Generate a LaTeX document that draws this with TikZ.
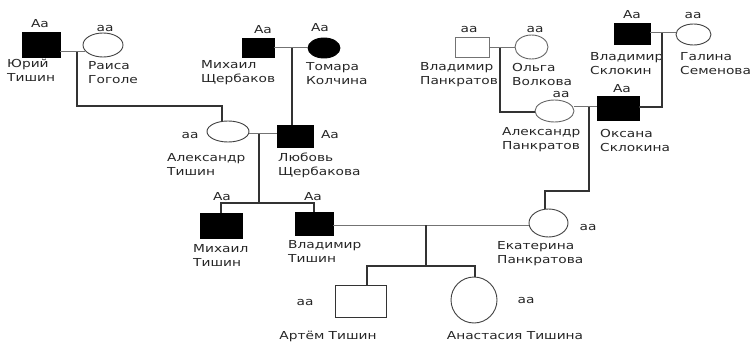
\documentclass[tikz,border=0pt]{standalone}
\usepackage{fontspec}
\setmainfont{DejaVu Sans}[FakeStretch=1.25]
\usetikzlibrary{shapes.geometric}

\begin{document}
\begin{tikzpicture}[x=1pt, y=-1pt,
		every node/.style={font=\fontsize{11}{14}\selectfont, text=black!85},
		man/.style={draw=black!80, rectangle, inner sep=0pt, line width=0.9pt},
		woman/.style={draw=black!75, ellipse, inner sep=0pt, line width=0.9pt},
		ill/.style={fill=black, draw=black},
		gt/.style={inner sep=0pt},
		who/.style={align=left, anchor=west, inner sep=0pt},
		mate/.style={draw=black!55, line width=1pt},
		kin/.style={draw=black!80, line width=1.1pt}]
				\useasboundingbox (0,0) rectangle (752,342);
				% People:
				\node[man, ill, minimum width=38pt, minimum height=25pt] (yuri) at (41,44.5){};
				\node[woman, minimum width=40pt, minimum height=24pt] (raisa) at (103,45){};
				\node[man, ill, minimum width=32pt, minimum height=19pt] (mikhailS) at (258,47.5){};
				\node[woman, ill, minimum width=32pt, minimum height=20pt] (tomara) at (324,48){};
				\node[woman, minimum width=42pt, minimum height=21pt] (alexT) at (228,131.5){};
				\node[man, ill, minimum width=36pt, minimum height=22pt] (lyubov) at (295,136){};
				\node[man, ill, minimum width=42pt, minimum height=25pt] (mikhailT) at (221,225.5){};
				\node[man, ill, minimum width=38pt, minimum height=23pt] (vladimirT) at (314,223.5){};
				\node[woman, minimum width=39pt, minimum height=28pt] (ekaterina) at (548.5,223){};
				\node[man, draw=black!55, minimum width=34pt, minimum height=20pt] (vladimirP) at (472,47){};
				\node[woman, draw=black!60, minimum width=33pt, minimum height=24pt] (olga) at (531.5,47){};
				\node[woman, draw=black!60, minimum width=39pt, minimum height=22pt] (alexP) at (554.5,111){};
				\node[man, ill, minimum width=42pt, minimum height=24pt] (oksana) at (618,108){};
				\node[man, ill, minimum width=36pt, minimum height=21pt] (vladimirS) at (632,33.5){};
				\node[woman, minimum width=35pt, minimum height=21pt] (galina) at (693.5,34.5){};
				\node[man, minimum width=51pt, minimum height=32pt] (artem) at (360.5,301){};
				\node[woman, minimum width=46pt, minimum height=46pt] (anastasia) at (474,300){};
				% Genotypes:
				\node[gt] (gYuri) at (40,24){Aa};
				\node[gt] (gRaisa) at (105,28){aa};
				\node[gt] (gMikhailS) at (263,30){Aa};
				\node[gt] (gTomara) at (320,28){Aa};
				\node[gt] (gAlexT) at (190,135){aa};
				\node[gt] (gLyubov) at (330,135){Aa};
				\node[gt] (gMikhailT) at (222,197){Aa};
				\node[gt] (gVladimirT) at (313,197){Aa};
				\node[gt] (gEkaterina) at (588,227){aa};
				\node[gt] (gVladimirP) at (469,29){aa};
				\node[gt] (gOlga) at (535,29){aa};
				\node[gt] (gAlexP) at (561,94.5){aa};
				\node[gt] (gOksana) at (622,89){Aa};
				\node[gt] (gVladimirS) at (632,15){Aa};
				\node[gt] (gGalina) at (693,15){aa};
				\node[gt] (gArtem) at (305,302){aa};
				\node[gt] (gAnastasia) at (526,300){aa};
				% Names:
				\node[who] (nYuri) at (7,70){Юрий\\Тишин};
				\node[who] (nRaisa) at (88,73){Раиса\\Гоголе};
				\node[who] (nMikhailS) at (201,73){Михаил\\Щербаков};
				\node[who] (nTomara) at (306,74){Томара\\Колчина};
				\node[who] (nAlexT) at (167,164){Александр\\Тишин};
				\node[who] (nLyubov) at (278,165){Любовь\\Щербакова};
				\node[who] (nMikhailT) at (193,255){Михаил\\Тишин};
				\node[who] (nVladimirT) at (288,251){Владимир\\Тишин};
				\node[who] (nEkaterina) at (497,254){Екатерина\\Панкратова};
				\node[who] (nVladimirP) at (420,75){Владимир\\Панкратов};
				\node[who] (nOlga) at (512,74){Ольга\\Волкова};
				\node[who] (nAlexP) at (502,140){Александр\\Панкратов};
				\node[who] (nOksana) at (600,140){Оксана\\Склокина};
				\node[who] (nVladimirS) at (590,64){Владимир\\Склокин};
				\node[who] (nGalina) at (680,64){Галина\\Семенова};
				\node[gt] (nArtem) at (328,336){Артём Тишин};
				\node[gt] (nAnastasia) at (515,336){Анастасия Тишина};
				% Couples and descent:
				\coordinate (j1) at (77,52);
				\coordinate (b1) at (222,106);
				\draw[mate] (yuri.east |- j1) -- (raisa.200 |- j1);
				\draw[kin] (j1) -- (j1 |- b1) -- (b1) -- (b1 |- alexT.north);
				\coordinate (j2) at (292,48);
				\draw[mate] (mikhailS.east |- j2) -- (tomara.west |- j2);
				\draw[kin] (j2) -- (j2 |- lyubov.north);
				\coordinate (j3) at (259,134);
				\coordinate (b3) at (259,203);
				\draw[mate] (alexT.east |- j3) -- (lyubov.west |- j3);
				\draw[kin] (j3) -- (b3);
				\draw[kin] (mikhailT.north) -- (mikhailT.north |- b3) -- (vladimirT.north |- b3) -- (vladimirT.north);
				\coordinate (j4) at (426,225);
				\coordinate (b4) at (426,266);
				\draw[mate] (vladimirT.east |- j4) -- (ekaterina.west |- j4);
				\draw[kin] (j4) -- (b4);
				\coordinate (c4a) at (367,266);
				\coordinate (c4b) at (475,266);
				\draw[kin] (c4a |- artem.north) -- (c4a) -- (c4b) -- (c4b |- anastasia.north);
				\coordinate (j5) at (500,48);
				\coordinate (b5) at (500,112);
				\draw[mate] (vladimirP.east |- j5) -- (olga.west |- j5);
				\draw[kin] (j5) -- (b5) -- (alexP.west |- b5);
				\coordinate (j6) at (662,33);
				\coordinate (b6) at (662,107);
				\draw[mate] (vladimirS.east |- j6) -- (galina.west |- j6);
				\draw[kin] (j6) -- (b6) -- (oksana.east |- b6);
				\coordinate (j7) at (589,107);
				\coordinate (b7) at (589,191);
				\coordinate (c7) at (545,191);
				\draw[mate] (alexP.east |- j7) -- (oksana.west |- j7);
				\draw[kin] (j7) -- (b7) -- (c7) -- (c7 |- ekaterina.north);
			\end{tikzpicture}
\end{document}
